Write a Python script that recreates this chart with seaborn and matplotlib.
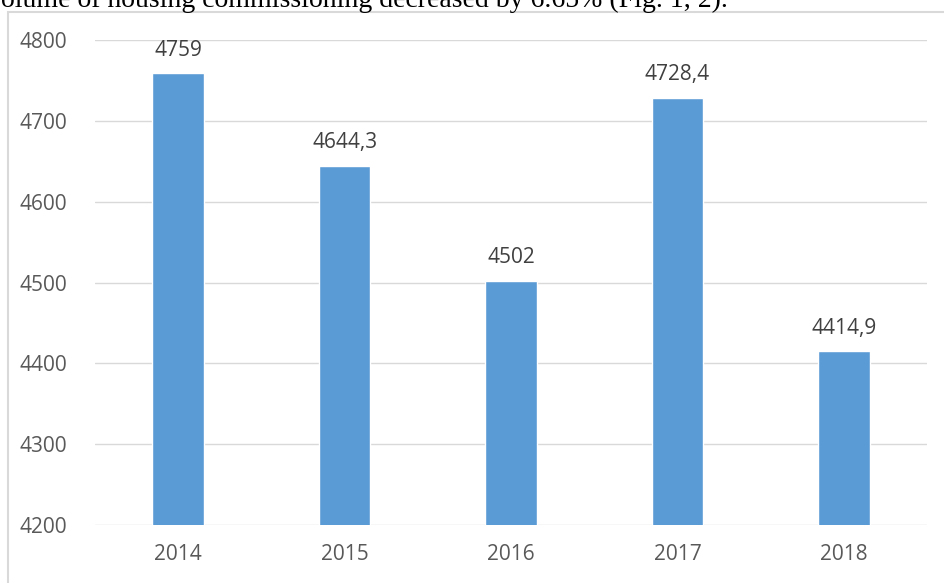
import matplotlib
matplotlib.use("Agg")
import matplotlib.pyplot as plt
import seaborn as sns
import pandas as pd
from matplotlib.patches import Rectangle

years = ["2014", "2015", "2016", "2017", "2018"]
values = [4759, 4644.3, 4502, 4728.4, 4414.9]
labels = ["4759", "4644,3", "4502", "4728,4", "4414,9"]
yticks = [4200, 4300, 4400, 4500, 4600, 4700, 4800]

sns.set_theme(style="white")
plt.rcParams['font.family'] = ['Open Sans', 'DejaVu Sans']

W, H = 945, 583
fig = plt.figure(figsize=(W / 100, H / 100), dpi=100)
ax = fig.add_axes([95 / W, 1 - 525 / H, (927 - 95) / W, (525 - 40) / H])

df = pd.DataFrame({"year": years, "value": values})
sns.barplot(data=df, x="year", y="value", color="#5B9BD5", saturation=1,
            width=0.31, ax=ax, zorder=3)

ax.set_ylim(4200, 4800)
ax.set_yticks(yticks)
ax.set_yticklabels([str(t) for t in yticks])
ax.set_xlabel("")
ax.set_ylabel("")
for s in ax.spines.values():
    s.set_visible(False)
ax.grid(axis="y", color="#D9D9D9", linewidth=1, zorder=0)
ax.tick_params(axis="both", length=0, labelsize=15, labelcolor="#595959")
ax.tick_params(axis="y", pad=20)
ax.tick_params(axis="x", pad=14)

for i, (v, lab) in enumerate(zip(values, labels)):
    ax.annotate(lab, (i, v), xytext=(0, 9), textcoords="offset points",
                ha="center", va="bottom", fontsize=15, color="#404040")

# chart frame
fig.patches.append(Rectangle((8 / W, -0.1), 1.2, 1 - 12 / H + 0.1,
                             transform=fig.transFigure, fill=False,
                             edgecolor="#D9D9D9", linewidth=1.5))

# cropped sentence from the page above
fig.text(1 / W, 1 - 7 / H, "olume of housing commissioning decreased by 6.65% (Fig. 1, 2).",
         family=["Liberation Serif", "DejaVu Serif"], fontsize=20, color="black",
         ha="left", va="baseline")

fig.savefig("out.png", dpi=100)
